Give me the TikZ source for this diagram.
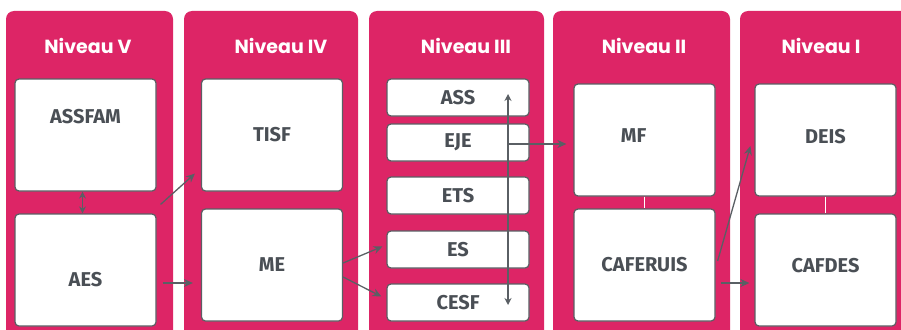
\documentclass[tikz,border=0pt]{standalone}
\usepackage{fontspec}
\setmainfont{Fira Sans}
\newfontfamily\headfont{Poppins}
\usetikzlibrary{positioning, arrows.meta}
\definecolor{nivpink}{HTML}{DD2566}
\definecolor{boxgray}{HTML}{5A5F64}
\definecolor{txtgray}{HTML}{4A4F55}

\begin{document}
\begin{tikzpicture}[x=1pt, y=-1pt, node distance=130pt,
    bigbox/.style={rectangle, draw=boxgray, fill=white, rounded corners=4pt, line width=1.2pt, minimum width=141pt, minimum height=112pt, text=txtgray, font=\fontsize{20}{21}\selectfont\bfseries},
    smallbox/.style={bigbox, minimum width=142pt, minimum height=37pt},
    levelhead/.style={text=white, font=\headfont\fontsize{19}{20}\selectfont\bfseries},
    link/.style={draw=boxgray, line width=1.3pt, -{Stealth[length=9pt, width=8pt]}},
    twolink/.style={draw=boxgray, line width=1.3pt, {Stealth[length=7pt, width=7pt]}-{Stealth[length=7pt, width=7pt]}}]
    \useasboundingbox (0,0) rectangle (901,329);

    % Define columns
    \foreach \xa/\xb/\lvl/\tx in {6/173/V/88, 184/358/IV/281, 369/544/III/466, 553/730/II/644, 740/912/I/821}{
        \fill[nivpink, rounded corners=8pt] (\xa,11) rectangle (\xb,345);
        \node[levelhead] (head\lvl) at (\tx,45.5) {Niveau \lvl};
    }

    % Define blocks
    \node[bigbox, text depth=38pt] (assfam) at (85.5,135) {ASSFAM};
    \node[bigbox, node distance=135pt, below of=assfam, text height=34pt] (aes) {AES};

    \node[bigbox] (tisf) at (272,135) {TISF};
    \node[bigbox, below of=tisf] (me) {ME};

    \node[smallbox] (ass) at (458,97.5) {ASS};
    \node[smallbox, node distance=53pt, below of=ass, yshift=8pt] (eje) {EJE};
    \node[smallbox, node distance=53pt, below of=eje] (ets) {ETS};
    \node[smallbox, node distance=54pt, below of=ets] (es) {ES};
    \node[smallbox, node distance=53pt, below of=es] (cesf) {CESF};

    \node[bigbox, text depth=8pt] (mf) at (644.5,140) {MF\hspace*{22pt}};
    \node[bigbox, node distance=125pt, below of=mf] (caferuis) {CAFERUIS};

    \node[bigbox, text depth=8pt] (deis) at (825.5,140) {DEIS};
    \node[bigbox, below of=deis, text depth=10pt] (cafdes) {CAFDES};

    % Define arrows
    \draw[white, line width=1.5pt] (mf) -- (caferuis);
    \draw[white, line width=1.5pt] (deis) -- (cafdes);
    \draw[twolink] ([xshift=-3pt]assfam.south) -- ([xshift=-3pt]aes.north);
    \draw[link] ([xshift=4pt,yshift=9pt]aes.north east) -- ([xshift=-6pt,yshift=18pt]tisf.south west);
    \draw[link] ([xshift=6pt,yshift=-13pt]aes.east) -- ([xshift=-8pt,yshift=-18pt]me.west);
    \draw[link] ([yshift=2pt]me.east) -- ([xshift=-4pt,yshift=3pt]es.west);
    \draw[link] ([yshift=-12pt]me.east) -- ([xshift=-5pt,yshift=6pt]cesf.west);
    \draw[twolink] ([xshift=50pt,yshift=3.5pt]ass.center) -- ([xshift=50pt,yshift=-2.5pt]cesf.center);
    \draw[link] ([xshift=50pt,yshift=-1.5pt]eje.center) -- ([xshift=-7pt,yshift=-1.5pt]eje.center -| mf.west);
    \draw[link] ([xshift=2pt,yshift=4pt]caferuis.east) -- ([xshift=-4pt,yshift=-6pt]deis.west);
    \draw[link] ([xshift=5pt,yshift=-18pt]caferuis.east) -- ([xshift=-5pt,yshift=-13pt]cafdes.west);
\end{tikzpicture}
\end{document}
